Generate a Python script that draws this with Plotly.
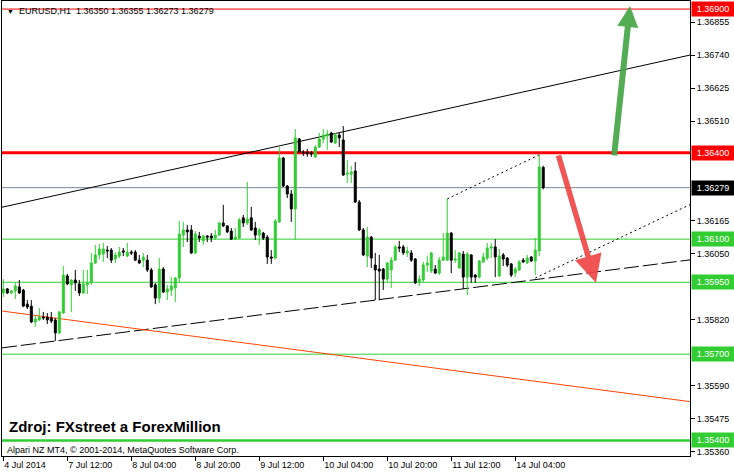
import plotly.graph_objects as go

# ---------------- data ----------------
BARS = list(range(136))
OPEN = [1.35913, 1.35927, 1.35913, 1.35920, 1.35934, 1.35923, 1.35874, 1.35867, 1.35812, 1.35819,
        1.35829, 1.35829, 1.35826, 1.35819, 1.35774, 1.35843, 1.35972, 1.35941, 1.35958, 1.35944,
        1.35913, 1.35941, 1.35948, 1.36017, 1.36045, 1.36048, 1.36062, 1.36062, 1.36031, 1.36041,
        1.36059, 1.36041, 1.36055, 1.36055, 1.36027, 1.36027, 1.36027, 1.35993, 1.35941, 1.35895,
        1.35996, 1.35916, 1.35923, 1.35930, 1.35965, 1.36114, 1.36132, 1.36132, 1.36052, 1.36111,
        1.36094, 1.36111, 1.36111, 1.36104, 1.36114, 1.36156, 1.36146, 1.36128, 1.36100, 1.36104,
        1.36174, 1.36156, 1.36174, 1.36139, 1.36114, 1.36121, 1.36107, 1.36038, 1.36034, 1.36160,
        1.36382, 1.36285, 1.36257, 1.36205, 1.36448, 1.36403, 1.36403, 1.36400, 1.36386, 1.36420,
        1.36448, 1.36459, 1.36469, 1.36434, 1.36462, 1.36445, 1.36326, 1.36326, 1.36337, 1.36229,
        1.36132, 1.36041, 1.36107, 1.36010, 1.35996, 1.35996, 1.35961, 1.35993, 1.36027, 1.36073,
        1.36073, 1.36052, 1.36052, 1.36031, 1.35951, 1.35958, 1.36010, 1.35989, 1.35996, 1.35982,
        1.36027, 1.36027, 1.36121, 1.36027, 1.36000, 1.36048, 1.35968, 1.36045, 1.35975, 1.35968,
        1.36021, 1.36034, 1.36069, 1.36073, 1.35972, 1.36045, 1.36034, 1.36014, 1.35982, 1.35993,
        1.36027, 1.36017, 1.36038, 1.36024, 1.36059, 1.36350]
HIGH = [1.35961, 1.35930, 1.35923, 1.35948, 1.35958, 1.35927, 1.35888, 1.35888, 1.35836, 1.35860,
        1.35847, 1.35843, 1.35847, 1.35826, 1.35850, 1.36007, 1.35979, 1.35961, 1.35993, 1.35958,
        1.35993, 1.35993, 1.36052, 1.36080, 1.36083, 1.36087, 1.36076, 1.36069, 1.36055, 1.36073,
        1.36069, 1.36087, 1.36062, 1.36062, 1.36045, 1.36052, 1.36045, 1.36000, 1.35948, 1.36034,
        1.36003, 1.35941, 1.35968, 1.35968, 1.36163, 1.36160, 1.36149, 1.36149, 1.36128, 1.36125,
        1.36114, 1.36114, 1.36121, 1.36132, 1.36160, 1.36219, 1.36149, 1.36139, 1.36139, 1.36174,
        1.36184, 1.36299, 1.36212, 1.36160, 1.36139, 1.36125, 1.36114, 1.36062, 1.36170, 1.36420,
        1.36386, 1.36288, 1.36271, 1.36483, 1.36452, 1.36410, 1.36413, 1.36407, 1.36427, 1.36469,
        1.36483, 1.36480, 1.36473, 1.36469, 1.36469, 1.36493, 1.36375, 1.36354, 1.36368, 1.36236,
        1.36139, 1.36142, 1.36111, 1.36052, 1.36045, 1.36000, 1.36021, 1.36038, 1.36080, 1.36094,
        1.36080, 1.36073, 1.36062, 1.36034, 1.35975, 1.36021, 1.36041, 1.36055, 1.36010, 1.36038,
        1.36121, 1.36240, 1.36125, 1.36062, 1.36055, 1.36059, 1.36055, 1.36048, 1.35979, 1.36027,
        1.36052, 1.36087, 1.36087, 1.36100, 1.36066, 1.36052, 1.36038, 1.36017, 1.36003, 1.36027,
        1.36034, 1.36045, 1.36041, 1.36104, 1.36393, 1.36355]
LOW = [1.35899, 1.35909, 1.35909, 1.35892, 1.35909, 1.35864, 1.35857, 1.35808, 1.35795, 1.35815,
       1.35819, 1.35805, 1.35808, 1.35746, 1.35770, 1.35840, 1.35941, 1.35847, 1.35920, 1.35902,
       1.35909, 1.35909, 1.35941, 1.36014, 1.36031, 1.36021, 1.36034, 1.36017, 1.36017, 1.36034,
       1.36041, 1.36038, 1.36045, 1.36024, 1.36014, 1.36003, 1.35986, 1.35930, 1.35874, 1.35878,
       1.35913, 1.35888, 1.35902, 1.35881, 1.35948, 1.36073, 1.36090, 1.36048, 1.36048, 1.36090,
       1.36080, 1.36090, 1.36090, 1.36097, 1.36111, 1.36142, 1.36121, 1.36097, 1.36097, 1.36100,
       1.36142, 1.36149, 1.36128, 1.36097, 1.36080, 1.36097, 1.36014, 1.36014, 1.36031, 1.36156,
       1.36281, 1.36243, 1.36160, 1.36097, 1.36400, 1.36389, 1.36386, 1.36386, 1.36382, 1.36417,
       1.36434, 1.36410, 1.36434, 1.36431, 1.36420, 1.36320, 1.36295, 1.36295, 1.36226, 1.36128,
       1.36041, 1.36003, 1.36000, 1.35888, 1.35888, 1.35923, 1.35951, 1.35930, 1.36024, 1.36055,
       1.36045, 1.36038, 1.36021, 1.35944, 1.35937, 1.35951, 1.35986, 1.35982, 1.35979, 1.35975,
       1.36024, 1.36024, 1.35982, 1.36017, 1.35996, 1.35927, 1.35906, 1.35948, 1.35948, 1.35965,
       1.36017, 1.36027, 1.36034, 1.35968, 1.35968, 1.36007, 1.36003, 1.35968, 1.35968, 1.35989,
       1.36017, 1.36014, 1.36021, 1.35975, 1.36041, 1.36273]
CLOSE = [1.35927, 1.35913, 1.35920, 1.35937, 1.35913, 1.35867, 1.35864, 1.35812, 1.35822, 1.35829,
         1.35826, 1.35819, 1.35815, 1.35774, 1.35847, 1.35975, 1.35944, 1.35958, 1.35948, 1.35913,
         1.35944, 1.35948, 1.36017, 1.36045, 1.36066, 1.36066, 1.36059, 1.36027, 1.36045, 1.36055,
         1.36055, 1.36055, 1.36052, 1.36027, 1.36017, 1.36038, 1.35993, 1.35934, 1.35895, 1.35996,
         1.35916, 1.35927, 1.35937, 1.35965, 1.36118, 1.36132, 1.36125, 1.36052, 1.36118, 1.36104,
         1.36111, 1.36107, 1.36104, 1.36114, 1.36156, 1.36146, 1.36125, 1.36100, 1.36107, 1.36167,
         1.36156, 1.36170, 1.36132, 1.36114, 1.36132, 1.36104, 1.36038, 1.36034, 1.36163, 1.36382,
         1.36285, 1.36257, 1.36205, 1.36452, 1.36403, 1.36400, 1.36398, 1.36396, 1.36420, 1.36448,
         1.36462, 1.36466, 1.36438, 1.36462, 1.36452, 1.36323, 1.36330, 1.36333, 1.36229, 1.36132,
         1.36045, 1.36107, 1.36034, 1.35993, 1.35989, 1.35961, 1.36017, 1.36027, 1.36073, 1.36069,
         1.36052, 1.36059, 1.36027, 1.35948, 1.35961, 1.36010, 1.36017, 1.36052, 1.35982, 1.36027,
         1.36038, 1.36121, 1.36027, 1.36031, 1.36052, 1.35968, 1.36048, 1.35968, 1.35968, 1.36024,
         1.36038, 1.36069, 1.36073, 1.36038, 1.36041, 1.36031, 1.36010, 1.35975, 1.35996, 1.36021,
         1.36021, 1.36034, 1.36024, 1.36062, 1.36351, 1.36279]

X_TICK_BARS = [0, 16, 32, 48, 64, 80, 96, 112, 128]
X_TICK_TEXT = ["4 Jul 2014", "7 Jul 12:00", "8 Jul 04:00", "8 Jul 20:00", "9 Jul 12:00",
               "10 Jul 04:00", "10 Jul 20:00", "11 Jul 12:00", "14 Jul 04:00"]
Y_TICKS = [1.36855, 1.36740, 1.36625, 1.36510, 1.36165, 1.36050, 1.35820, 1.35590, 1.35475, 1.35360]

RED_LEVELS = [1.36900, 1.36400]
GREEN_LEVELS = [1.36100, 1.35950, 1.35700, 1.35400]
BID = 1.36279

# trend lines: (bar0, price0, bar1, price1)
UPPER_CHANNEL = (-0.33, 1.36211, 171.7, 1.36740)
LOWER_CHANNEL = (-0.33, 1.35722, 171.7, 1.36028)
ORANGE_LINE = (-0.33, 1.35850, 171.7, 1.35535)
DOT_UPPER = (111, 1.36240, 134, 1.36393)
DOT_LOWER = (133, 1.35965, 171.7, 1.36220)

# arrows: (head bar, head price, tail bar, tail price)
GREEN_ARROW = (156.7, 1.36911, 152.7, 1.36386)
RED_ARROW = (148.2, 1.35948, 138.7, 1.36396)

FONT = "Liberation Sans, Arial, sans-serif"
LIME = "#32CD32"

fig = go.Figure()
fig.add_trace(go.Candlestick(
    x=BARS, open=OPEN, high=HIGH, low=LOW, close=CLOSE,
    increasing=dict(line=dict(color=LIME, width=1), fillcolor=LIME),
    decreasing=dict(line=dict(color="black", width=1), fillcolor="black"),
    showlegend=False, hoverinfo="skip",
))

shapes = []
for lv in RED_LEVELS:
    shapes.append(dict(type="line", xref="paper", x0=0, x1=1, yref="y", y0=lv, y1=lv,
                       line=dict(color="#FF0000", width=3 if lv == 1.36400 else 1), layer="below"))
for lv in GREEN_LEVELS:
    shapes.append(dict(type="line", xref="paper", x0=0, x1=1, yref="y", y0=lv, y1=lv,
                       line=dict(color=LIME, width=2.5 if lv == 1.35400 else 1), layer="below"))
shapes.append(dict(type="line", xref="paper", x0=0, x1=1, yref="y", y0=BID, y1=BID,
                   line=dict(color="#778899", width=1), layer="below"))


def seg(t, color, dash="solid", width=1):
    return dict(type="line", xref="x", yref="y", x0=t[0], y0=t[1], x1=t[2], y1=t[3],
                line=dict(color=color, width=width, dash=dash), layer="below")


shapes.append(seg(UPPER_CHANNEL, "black"))
shapes.append(seg(LOWER_CHANNEL, "black", "15px,4px"))
shapes.append(seg(ORANGE_LINE, "#FF4500"))
shapes.append(seg(DOT_UPPER, "black", "2px,3px"))
shapes.append(seg(DOT_LOWER, "black", "2px,3px"))

ann = []
for lv, bg in [(1.36900, "#FF0000"), (1.36400, "#FF0000"), (BID, "#000000"),
               (1.36100, LIME), (1.35950, LIME), (1.35700, LIME), (1.35400, LIME)]:
    ann.append(dict(xref="paper", x=1, xanchor="left", xshift=1, yref="y", y=lv, yanchor="middle",
                    text=f"{lv:.5f}", showarrow=False, bgcolor=bg, width=40, height=12, borderpad=1,
                    align="center", font=dict(family=FONT, size=9, color="white")))

for head, col, size, w in [(GREEN_ARROW, "rgba(70,165,70,0.92)", 0.7, 6),
                           (RED_ARROW, "rgba(240,70,70,0.92)", 1.0, 5.5)]:
    ann.append(dict(xref="x", yref="y", x=head[0], y=head[1], axref="x", ayref="y",
                    ax=head[2], ay=head[3], text="", showarrow=True, arrowhead=2,
                    arrowsize=size, arrowwidth=w, arrowcolor=col, standoff=0))

ann.append(dict(xref="paper", yref="paper", x=0, y=1, xanchor="left", yanchor="middle",
                xshift=3, yshift=-10, text="▼", showarrow=False,
                font=dict(family=FONT, size=7, color="black")))
ann.append(dict(xref="paper", yref="paper", x=0, y=1, xanchor="left", yanchor="middle",
                xshift=15, yshift=-10,
                text="EURUSD,H1\u00a0\u00a01.36350 1.36355 1.36273 1.36279", showarrow=False,
                font=dict(family=FONT, size=9, color="black")))
ann.append(dict(xref="paper", yref="paper", x=0, y=0, xanchor="left", yanchor="middle",
                xshift=5, yshift=30, text="<b>Zdroj: FXstreet a ForexMillion</b>", showarrow=False,
                font=dict(family=FONT, size=15, color="black")))
ann.append(dict(xref="paper", yref="paper", x=0, y=0, xanchor="left", yanchor="middle",
                xshift=3, yshift=6, text="Alpari NZ MT4, © 2001-2014, MetaQuotes Software Corp.",
                showarrow=False, font=dict(family=FONT, size=9, color="black")))

fig.update_layout(
    width=734, height=475,
    margin=dict(l=2, r=44, t=1, b=19),
    paper_bgcolor="white", plot_bgcolor="white",
    shapes=shapes, annotations=ann,
    showlegend=False,
    xaxis=dict(range=[-0.33, 171.7], showgrid=False, zeroline=False,
               tickmode="array", tickvals=X_TICK_BARS, ticktext=X_TICK_TEXT,
               ticks="outside", ticklen=4, tickcolor="black", ticklabelposition="outside right",
               showline=True, linecolor="black", linewidth=1, mirror=True,
               tickfont=dict(family=FONT, size=9, color="black"),
               rangeslider=dict(visible=False), fixedrange=True),
    yaxis=dict(range=[1.35346, 1.36928], side="right", showgrid=False, zeroline=False,
               tickmode="array", tickvals=Y_TICKS, ticktext=[f"{v:.5f}" for v in Y_TICKS],
               ticks="outside", ticklen=4, tickcolor="black",
               showline=True, linecolor="black", linewidth=1, mirror=True,
               tickfont=dict(family=FONT, size=9, color="black"), fixedrange=True),
)

fig.write_html("out.html", config={"displayModeBar": False},
               post_script="document.body.style.margin='0';document.body.style.padding='0';")
